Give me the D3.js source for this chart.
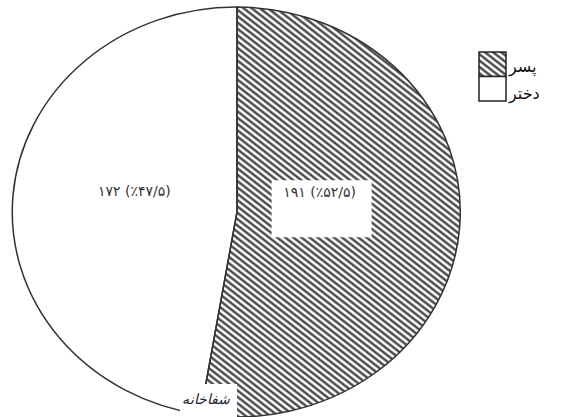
<html>
<head>
<meta charset="utf-8">
<script src="https://cdnjs.cloudflare.com/ajax/libs/d3/7.8.5/d3.min.js"></script>
<style>
body { margin: 0; background: white; }
</style>
</head>
<body>
<svg id="canvas" width="564" height="417"></svg>
<script>
// data
var categories = ["پسر", "دختر"];
var counts = [191, 172];
var percents = ["۵۲/۵", "۴۷/۵"];
var countLabels = ["۱۹۱", "۱۷۲"];

var svg = d3.select("#canvas");
var cx = 237, cy = 212, rx = 224, ry = 205;
var ellipse = "translate(" + cx + "," + cy + ") scale(" + rx + "," + ry + ")";

var defs = svg.append("defs");
var pat = defs.append("pattern")
    .attr("id", "hatch")
    .attr("patternUnits", "userSpaceOnUse")
    .attr("width", 5).attr("height", 5)
    .attr("patternTransform", "rotate(38)");
pat.append("rect").attr("width", 5).attr("height", 5).attr("fill", "white");
pat.append("line")
    .attr("x1", 0).attr("y1", 1.5).attr("x2", 5).attr("y2", 1.5)
    .attr("stroke", "#333").attr("stroke-width", 2.2);

var pie = d3.pie().sort(null).value(function(d) { return d; });
var arcs = pie(counts);
var fills = ["url(#hatch)", "white"];

// pie drawn with radius 1, stretched into an ellipse
var arc = d3.arc().innerRadius(0).outerRadius(1);

arcs.forEach(function(d, i) {
    defs.append("clipPath").attr("id", "slice" + i)
        .append("path")
        .attr("d", arc(d))
        .attr("transform", ellipse);
    svg.append("rect")
        .attr("x", 0).attr("y", 0).attr("width", 564).attr("height", 417)
        .attr("fill", fills[i])
        .attr("clip-path", "url(#slice" + i + ")");
});

var g = svg.append("g").attr("transform", ellipse);
g.selectAll("path")
    .data(arcs)
    .enter().append("path")
    .attr("d", arc)
    .attr("fill", "none")
    .attr("stroke", "#333")
    .attr("stroke-width", 1.5)
    .attr("vector-effect", "non-scaling-stroke");

// labels
var labelR = [0.74, 0.92], labelDy = [-21, -8];
arcs.forEach(function(d, i) {
    var c = d3.arc().innerRadius(0).outerRadius(labelR[i]).centroid(d);
    var x = cx + c[0] * rx;
    var y = cy + c[1] * ry + labelDy[i];
    var txt = countLabels[i] + " (٪" + percents[i] + ")";
    if (i == 0) {
        svg.append("rect")
            .attr("x", x - 48).attr("y", y - 17)
            .attr("width", 100).attr("height", 57)
            .attr("fill", "white");
    }
    svg.append("text")
        .attr("x", x).attr("y", y)
        .attr("text-anchor", "middle")
        .attr("direction", "ltr")
        .attr("font-family", "DejaVu Sans")
        .attr("font-size", 14)
        .attr("fill", "#333")
        .text(txt);
});

// legend
var legend = svg.append("g").attr("transform", "translate(479,52)");
categories.forEach(function(c, i) {
    legend.append("rect")
        .attr("x", 0).attr("y", i * 24.5)
        .attr("width", 27).attr("height", 24.5)
        .attr("fill", fills[i])
        .attr("stroke", "#222").attr("stroke-width", 1.5);
    legend.append("text")
        .attr("x", 30).attr("y", i * 24.5 + 20 + i * 2)
        .attr("text-anchor", "start")
        .attr("direction", "ltr")
        .attr("font-family", "DejaVu Sans")
        .attr("font-size", 16)
        .attr("fill", "#111")
        .text(c);
});

// watermark
svg.append("rect")
    .attr("x", 180).attr("y", 384).attr("width", 57).attr("height", 33)
    .attr("fill", "white");
svg.append("text")
    .attr("x", 206).attr("y", 404)
    .attr("text-anchor", "middle")
    .attr("font-family", "DejaVu Serif")
    .attr("font-style", "italic")
    .attr("font-size", 14)
    .attr("fill", "#223")
    .text("شفاخانه");
</script>
</body>
</html>
